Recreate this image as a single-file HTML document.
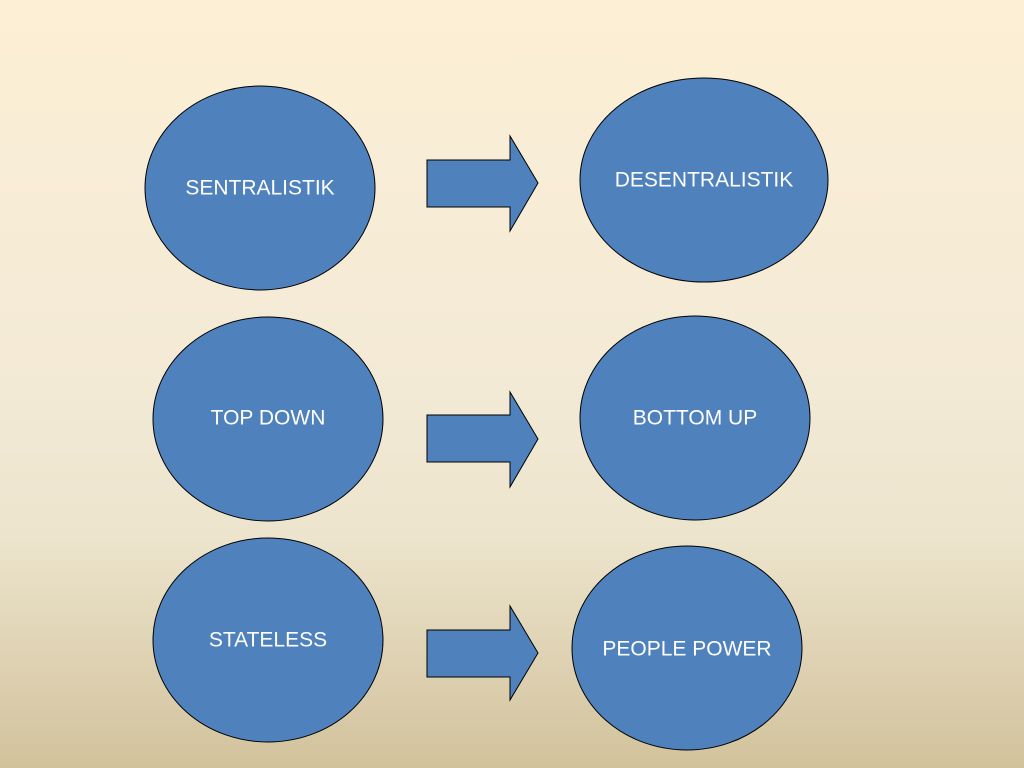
<!DOCTYPE html>
<html><head><meta charset="utf-8"><style>
html,body{margin:0;padding:0;}
body{width:1024px;height:768px;overflow:hidden;background:linear-gradient(180deg,#fcefd5 0%,#f3ead6 50%,#ece4cc 70%,#d2c29c 100%);}
svg{display:block}
text{font-family:"Liberation Sans",sans-serif;font-size:21px;fill:#fff;text-anchor:middle;dominant-baseline:central}
</style></head><body>
<svg width="1024" height="768" xmlns="http://www.w3.org/2000/svg">
<g fill="#4f81bd" stroke="#000" stroke-width="1">
<ellipse cx="260" cy="188" rx="115" ry="102"/>
<ellipse cx="704" cy="180" rx="124" ry="102"/>
<ellipse cx="268" cy="419" rx="115" ry="102"/>
<ellipse cx="695" cy="418" rx="115" ry="102"/>
<ellipse cx="268" cy="640" rx="115" ry="102"/>
<ellipse cx="687" cy="648" rx="115" ry="102"/>
<polygon points="427,160 510,160 510,136 538,183 510,231 510,207 427,207"/>
<polygon points="427,415 510,415 510,392 538,439 510,487 510,462 427,462"/>
<polygon points="427,630 510,630 510,606 538,653 510,700 510,677 427,677"/>
</g>
<text x="260" y="188">SENTRALISTIK</text>
<text x="704" y="180">DESENTRALISTIK</text>
<text x="268" y="418">TOP DOWN</text>
<text x="695" y="418">BOTTOM UP</text>
<text x="268" y="640">STATELESS</text>
<text x="687" y="649">PEOPLE POWER</text>
</svg>
</body></html>
